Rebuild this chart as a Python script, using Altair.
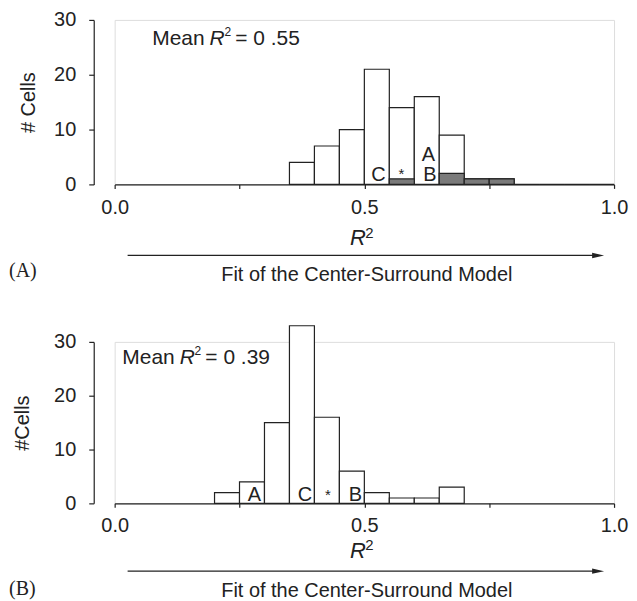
import altair as alt
import pandas as pd

FONT = "Liberation Sans"
SERIF = "Liberation Serif"
INK = "#222222"

# ---------------- Panel A ----------------
edges_a = [0.35, 0.40, 0.45, 0.50, 0.55, 0.60, 0.65, 0.70, 0.75, 0.80, 0.85, 0.90, 0.95, 1.00]
counts_a = [4, 7, 10, 21, 14, 16, 9, 1, 1, 0, 0, 0, 0]
gray_a = [0, 0, 0, 0, 1, 0, 2, 1, 1, 0, 0, 0, 0]
letters_a = ["C", "*", "A", "B"]
letter_x_a = [0.528, 0.574, 0.628, 0.631]
letter_y_a = [0.67, 0.9, 4.3, 0.67]
mean_a = "= 0 .55"
ylab_a = "# Cells"
panel_a = "(A)"
yticks_a = [0, 5, 10, 15, 20, 25, 30]

# ---------------- Panel B ----------------
edges_b = [0.20, 0.25, 0.30, 0.35, 0.40, 0.45, 0.50, 0.55, 0.60, 0.65, 0.70]
counts_b = [2, 4, 15, 33, 16, 6, 2, 1, 1, 3]
gray_b = [0, 0, 0, 0, 0, 0, 0, 0, 0, 0]
letters_b = ["A", "C", "*", "B"]
letter_x_b = [0.280, 0.381, 0.427, 0.482]
letter_y_b = [0.37, 0.37, 0.55, 0.37]
mean_b = "= 0 .39"
ylab_b = "#Cells"
panel_b = "(B)"
yticks_b = [0, 10, 20, 30]

x_ticks = [0.0, 0.25, 0.5, 0.75, 1.0]
y_domain = [0, 30]
caption = "Fit of the Center-Surround Model"

W = 501


def panel(edges, counts, gray, letters, lx, ly, mean_text, ylab, plabel, yticks,
          h, title_pad, label_pad_x, mean_x, mean_base, rsq_base, arrow_y, fit_base, plabel_base):
    bars = pd.DataFrame({"start": edges[:-1], "end": edges[1:], "count": counts})
    gbars = pd.DataFrame({"start": edges[:-1], "end": edges[1:], "count": gray})
    gbars = gbars[gbars["count"] > 0]
    lets = pd.DataFrame({"start": lx, "count": ly, "t": letters})
    lets_big = lets[lets["t"] != "*"]
    lets_star = lets[lets["t"] == "*"]

    xs = alt.Scale(domain=[0, 1], nice=False, zero=False)
    ys = alt.Scale(domain=y_domain, nice=False)
    xaxis = alt.Axis(
        values=x_ticks,
        labelExpr="(datum.value == 0.25 || datum.value == 0.75) ? '' : format(datum.value, '.1f')",
        title=None, grid=False, tickSize=4, tickColor=INK, tickWidth=1.2,
        domainColor=INK, domainWidth=1.4, labelFont=FONT, labelFontSize=20,
        labelColor=INK, labelBaseline="alphabetic", labelPadding=label_pad_x,
        labelFlush=False, labelOverlap=False,
    )
    yaxis = alt.Axis(
        values=yticks,
        labelExpr="datum.value % 10 == 0 ? format(datum.value, 'd') : ''",
        title=ylab, titleFont=FONT, titleFontSize=20, titleFontWeight="normal",
        titleColor=INK, titlePadding=title_pad, grid=False, tickSize=5,
        tickColor=INK, tickWidth=1.2, domainColor=INK, domainWidth=1.2,
        labelFont=FONT, labelFontSize=20, labelColor=INK, labelPadding=13,
        offset=21, labelOverlap=False,
    )

    white = alt.Chart(bars).mark_bar(
        fill="white", stroke=INK, strokeWidth=1.2, clip=False
    ).encode(
        x=alt.X("start:Q", scale=xs, axis=xaxis),
        x2="end:Q",
        y=alt.Y("count:Q", scale=ys, axis=yaxis),
        y2=alt.datum(0),
    )
    layers = [white]
    if len(gbars):
        layers.append(
            alt.Chart(gbars).mark_bar(fill="#7a7a7a", stroke=INK, strokeWidth=1.2).encode(
                x=alt.X("start:Q", title=None), x2="end:Q",
                y=alt.Y("count:Q", title=ylab), y2=alt.datum(0)
            )
        )
    layers.append(
        alt.Chart(lets_big).mark_text(
            font=FONT, fontSize=20, color=INK, baseline="alphabetic", align="center"
        ).encode(x=alt.X("start:Q", title=None), y=alt.Y("count:Q", title=ylab), text="t:N")
    )
    layers.append(
        alt.Chart(lets_star).mark_text(
            font=FONT, fontSize=15, color=INK, baseline="alphabetic", align="center"
        ).encode(x=alt.X("start:Q", title=None), y=alt.Y("count:Q", title=ylab), text="t:N")
    )

    one = pd.DataFrame({"k": [0]})

    def txt(s, x, y, size=20, style="normal", align="left", font=FONT):
        return alt.Chart(one).mark_text(
            text=s, font=font, fontSize=size, fontStyle=style, color=INK,
            align=align, baseline="alphabetic"
        ).encode(x=alt.value(x), y=alt.value(y))

    # Mean R^2 annotation
    layers.append(txt("Mean", mean_x, mean_base, 21))
    layers.append(txt("R", mean_x + 57.5, mean_base, 21, "italic"))
    layers.append(txt("2", mean_x + 72.5, mean_base - 8.4, 12))
    layers.append(txt(mean_text, mean_x + 83.3, mean_base, 21))

    # axis title R^2
    layers.append(txt("R", 236.2, rsq_base, 22, "italic"))
    layers.append(txt("2", 251.5, rsq_base - 8, 15))

    # arrow
    layers.append(
        alt.Chart(one).mark_rule(color=INK, strokeWidth=1.3).encode(
            x=alt.value(13), x2=alt.value(482), y=alt.value(arrow_y)
        )
    )
    layers.append(
        alt.Chart(one).mark_point(
            shape="M -1 -0.45 L 1 0 L -1 0.45 Z", filled=True, size=144,
            color=INK, opacity=1
        ).encode(x=alt.value(485), y=alt.value(arrow_y))
    )
    layers.append(txt(caption, 253, fit_base, 20, align="center"))
    layers.append(txt(plabel, -106, plabel_base, 20, font=SERIF))

    return alt.layer(*layers).properties(width=W, height=h)


top = panel(edges_a, counts_a, gray_a, letters_a, letter_x_a, letter_y_a, mean_a,
            ylab_a, panel_a, yticks_a, h=165, title_pad=15, label_pad_x=25.7,
            mean_x=37.7, mean_base=24.7, rsq_base=226.3, arrow_y=236.3,
            fit_base=262.3, plabel_base=258)
bottom = panel(edges_b, counts_b, gray_b, letters_b, letter_x_b, letter_y_b, mean_b,
               ylab_b, panel_b, yticks_b, h=162, title_pad=21, label_pad_x=24,
               mean_x=7.7, mean_base=21.7, rsq_base=217, arrow_y=230,
               fit_base=256, plabel_base=254)

chart = alt.vconcat(top, bottom, spacing=158, bounds="flush").properties(
    padding={"left": 0, "top": 0, "right": 0, "bottom": 0}
).configure_view(stroke=None).configure(background="white")

chart.save("out.html", embed_options={"renderer": "svg", "actions": False})
